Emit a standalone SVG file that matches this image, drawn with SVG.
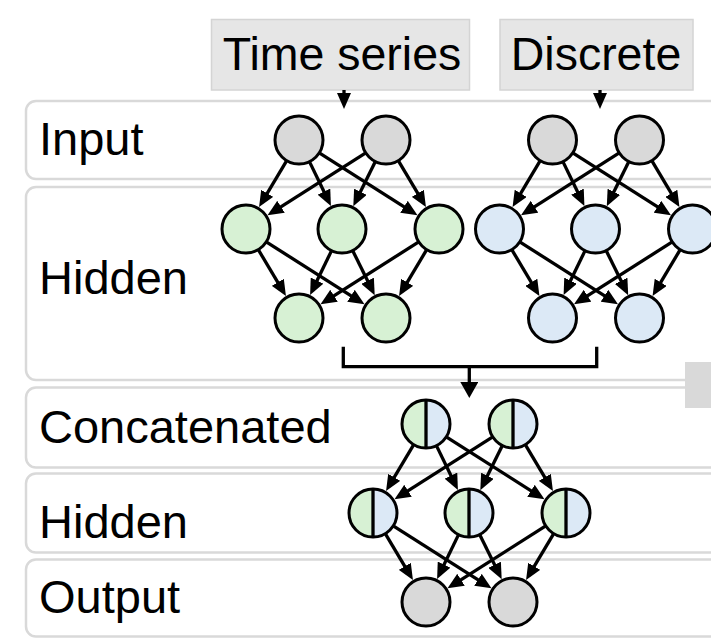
<svg xmlns="http://www.w3.org/2000/svg" xmlns:xlink="http://www.w3.org/1999/xlink" width="711" height="638" viewBox="0 0 711 638">
<style>
.lane{fill:#ffffff;stroke:#d9d9d9;stroke-width:2.5}
.lbl{font-family:"Liberation Sans",Arial,sans-serif;font-size:47px;fill:#000}
.tlbl{font-family:"Liberation Sans",Arial,sans-serif;font-size:46.5px;fill:#000;text-anchor:middle}
.tbox{fill:#e6e6e6;stroke:#d4d4d4;stroke-width:1.5}
.n{stroke:#000;stroke-width:3}
.gray{fill:#d9d9d9}
.green{fill:#d7f1d4}
.blue{fill:#dce9f6}
.e{stroke:#000;stroke-width:3.3;fill:none;marker-end:url(#ah)}
.b{stroke:#000;stroke-width:3.3;fill:none}
</style>
<defs>
<marker id="ah" markerUnits="userSpaceOnUse" markerWidth="16" markerHeight="14" viewBox="0 0 16 14" refX="3" refY="7" orient="auto">
<path d="M0,0 L16,7 L0,14 Z" fill="#000"/>
</marker>
<marker id="ahL" markerUnits="userSpaceOnUse" markerWidth="16" markerHeight="18" viewBox="0 0 16 18" refX="2" refY="9" orient="auto">
<path d="M0,0 L16,9 L0,18 Z" fill="#000"/>
</marker>
<g id="netEdges">
<line class="e" x1="286.72" y1="160.62" x2="265.70" y2="195.92"/>
<line class="e" x1="309.44" y1="161.61" x2="325.25" y2="194.33"/>
<line class="e" x1="319.25" y1="152.88" x2="406.51" y2="208.34"/>
<line class="e" x1="365.75" y1="152.88" x2="278.49" y2="208.34"/>
<line class="e" x1="375.36" y1="161.51" x2="359.06" y2="194.49"/>
<line class="e" x1="398.28" y1="160.62" x2="419.30" y2="195.92"/>
<line class="e" x1="258.28" y1="249.62" x2="279.30" y2="284.92"/>
<line class="e" x1="266.25" y1="241.88" x2="353.51" y2="297.34"/>
<line class="e" x1="331.56" y1="250.61" x2="315.75" y2="283.33"/>
<line class="e" x1="352.64" y1="250.51" x2="368.94" y2="283.49"/>
<line class="e" x1="418.75" y1="241.88" x2="331.49" y2="297.34"/>
<line class="e" x1="426.72" y1="249.62" x2="405.70" y2="284.92"/>
</g>
</defs>

<g id="lanes">
<g id="lane-input"><rect class="lane" x="26" y="101" width="720" height="78" rx="10"/><text class="lbl" x="39" y="155">Input</text></g>
<g id="lane-hidden1"><rect class="lane" x="26" y="187" width="720" height="193" rx="10"/><text class="lbl" x="39" y="294">Hidden</text></g>
<g id="lane-concat"><rect class="lane" x="26" y="387.5" width="720" height="80" rx="10"/><text class="lbl" x="39" y="443">Concatenated</text></g>
<g id="lane-hidden2"><rect class="lane" x="26" y="473.5" width="720" height="79" rx="10"/><text class="lbl" x="39" y="538">Hidden</text></g>
<g id="lane-output"><rect class="lane" x="26" y="559.5" width="720" height="77" rx="10"/><text class="lbl" x="39" y="613">Output</text></g>
</g>

<g id="label-timeseries"><rect class="tbox" x="211.5" y="19.5" width="258" height="70.5"/><text class="tlbl" x="342" y="70">Time series</text></g>
<g id="label-discrete"><rect class="tbox" x="500" y="19.5" width="193" height="70.5"/><text class="tlbl" x="596" y="70">Discrete</text></g>
<g id="side-box"><rect x="685" y="362" width="30" height="46" fill="#d9d9d9"/></g>

<g id="connectors">
<line class="e" x1="344" y1="90" x2="344" y2="96"/>
<line class="e" x1="600" y1="90" x2="600" y2="96"/>
<use xlink:href="#netEdges"/>
<use xlink:href="#netEdges" transform="translate(253.5,0)"/>
<use xlink:href="#netEdges" transform="translate(127,284)"/>
<polyline class="b" points="343.3,346.7 343.3,366.7 596.7,366.7 596.7,346.7"/>
<line x1="469.3" y1="366.7" x2="469.3" y2="384" stroke="#000" stroke-width="3.3" marker-end="url(#ahL)"/>
</g>

<g id="nodes-timeseries">
<g id="ts-in1"><circle class="n gray" cx="299" cy="140" r="24"/></g>
<g id="ts-in2"><circle class="n gray" cx="386" cy="140" r="24"/></g>
<g id="ts-h1"><circle class="n green" cx="246" cy="229" r="24"/></g>
<g id="ts-h2"><circle class="n green" cx="342" cy="229" r="24"/></g>
<g id="ts-h3"><circle class="n green" cx="439" cy="229" r="24"/></g>
<g id="ts-b1"><circle class="n green" cx="299" cy="318" r="24"/></g>
<g id="ts-b2"><circle class="n green" cx="386" cy="318" r="24"/></g>
</g>
<g id="nodes-discrete">
<g id="d-in1"><circle class="n gray" cx="552.5" cy="140" r="24"/></g>
<g id="d-in2"><circle class="n gray" cx="639.5" cy="140" r="24"/></g>
<g id="d-h1"><circle class="n blue" cx="499.5" cy="229" r="24"/></g>
<g id="d-h2"><circle class="n blue" cx="595.5" cy="229" r="24"/></g>
<g id="d-h3"><circle class="n blue" cx="692.5" cy="229" r="24"/></g>
<g id="d-b1"><circle class="n blue" cx="552.5" cy="318" r="24"/></g>
<g id="d-b2"><circle class="n blue" cx="639.5" cy="318" r="24"/></g>
</g>
<g id="nodes-combined">
<g id="c1"><path class="green" d="M426,400 A24,24 0 0 0 426,448 Z"/><path class="blue" d="M426,400 A24,24 0 0 1 426,448 Z"/><circle class="n" fill="none" cx="426" cy="424" r="24"/><line class="b" x1="426" y1="400" x2="426" y2="448" stroke-width="2.5"/></g>
<g id="c2"><path class="green" d="M513,400 A24,24 0 0 0 513,448 Z"/><path class="blue" d="M513,400 A24,24 0 0 1 513,448 Z"/><circle class="n" fill="none" cx="513" cy="424" r="24"/><line class="b" x1="513" y1="400" x2="513" y2="448" stroke-width="2.5"/></g>
<g id="k1"><path class="green" d="M373,489 A24,24 0 0 0 373,537 Z"/><path class="blue" d="M373,489 A24,24 0 0 1 373,537 Z"/><circle class="n" fill="none" cx="373" cy="513" r="24"/><line class="b" x1="373" y1="489" x2="373" y2="537" stroke-width="2.5"/></g>
<g id="k2"><path class="green" d="M469,489 A24,24 0 0 0 469,537 Z"/><path class="blue" d="M469,489 A24,24 0 0 1 469,537 Z"/><circle class="n" fill="none" cx="469" cy="513" r="24"/><line class="b" x1="469" y1="489" x2="469" y2="537" stroke-width="2.5"/></g>
<g id="k3"><path class="green" d="M566,489 A24,24 0 0 0 566,537 Z"/><path class="blue" d="M566,489 A24,24 0 0 1 566,537 Z"/><circle class="n" fill="none" cx="566" cy="513" r="24"/><line class="b" x1="566" y1="489" x2="566" y2="537" stroke-width="2.5"/></g>
<g id="o1"><circle class="n gray" cx="426" cy="602" r="24"/></g>
<g id="o2"><circle class="n gray" cx="513" cy="602" r="24"/></g>
</g>
</svg>
